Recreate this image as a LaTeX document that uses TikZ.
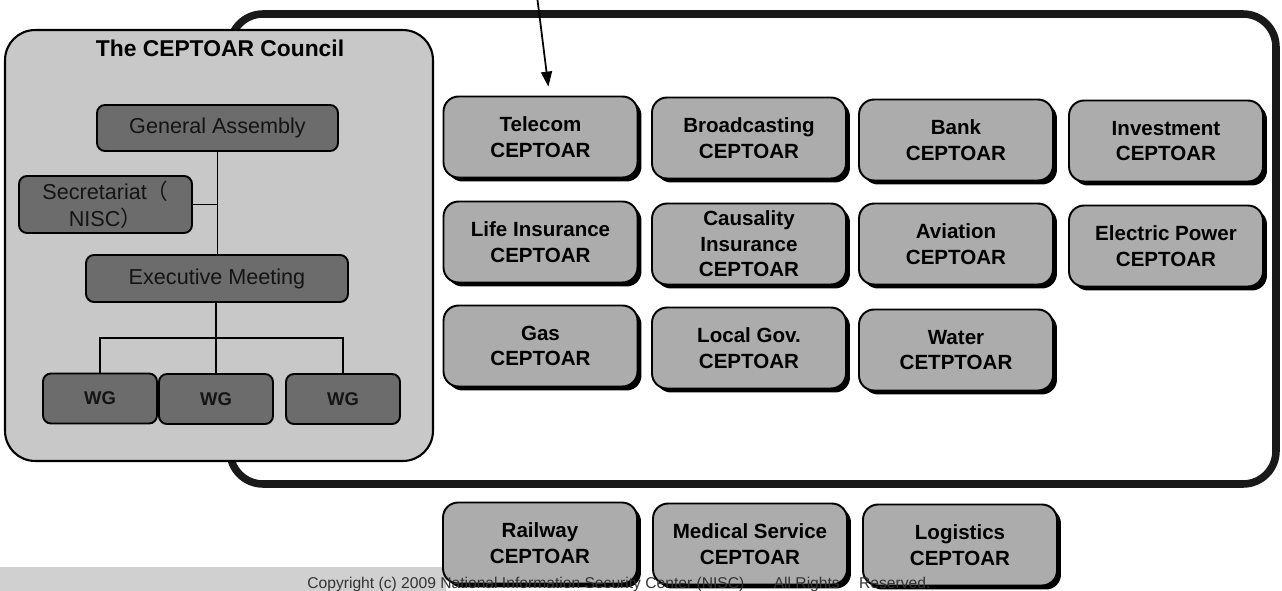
\documentclass[tikz,border=0pt]{standalone}
\usepackage{fontspec}
\setmainfont{Liberation Sans}
\newfontfamily\cjkfont{Noto Sans CJK JP}
\usetikzlibrary{shadows,arrows.meta,calc}
\definecolor{councilbg}{RGB}{200,200,200}
\definecolor{darkbox}{RGB}{108,108,108}
\definecolor{darktext}{RGB}{20,20,20}
\definecolor{cepfill}{RGB}{172,172,172}
\definecolor{stripgray}{RGB}{208,208,208}
\definecolor{framecol}{RGB}{25,25,25}
\tikzset{
  council/.style={draw=black, line width=1.2pt, fill=councilbg, rounded corners=0.6cm,
    minimum width=8.56cm, minimum height=8.62cm, inner sep=0pt},
  titletext/.style={font=\bfseries\fontsize{13}{15}\selectfont},
  orgbox/.style={draw=black, line width=1.1pt, fill=darkbox, rounded corners=0.16cm,
    text=darktext, font=\fontsize{12.3}{15.2}\selectfont, align=center, inner sep=0pt},
  wgbox/.style={orgbox, font=\bfseries\fontsize{10.5}{12}\selectfont,
    minimum width=2.28cm, minimum height=1.0cm},
  cepbox/.style={draw=black, line width=1.1pt, fill=cepfill, rounded corners=0.3cm,
    minimum width=3.88cm, minimum height=1.62cm, inner sep=0pt, align=center,
    font=\bfseries\fontsize{11.7}{14.6}\selectfont,
    drop shadow={shadow xshift=0.08cm, shadow yshift=-0.08cm, opacity=1, fill=black}},
  bigframe/.style={draw=framecol, line width=4.3pt, rounded corners=0.66cm},
  link/.style={draw=black, line width=1.1pt},
  arrowline/.style={draw=black, line width=1pt, -{Triangle[length=0.3cm,width=0.22cm]}},
  copytext/.style={text=black!80, font=\fontsize{8.9}{10}\selectfont, inner sep=0pt, anchor=base west}
}
\begin{document}
\begin{tikzpicture}[x=0.02cm,y=-0.02cm]
\useasboundingbox (0,0) rectangle (1282,591);
\fill[white] (0,0) rectangle (1282,591);

% bottom grey strip
\fill[stripgray] (0,567) rectangle (446,591);

% big frame
\draw[bigframe] (230,14) rectangle (1276,484);

% council
\node[council] (council) at (219,245.5) {};
\node[titletext] (title) at (220,48) {The CEPTOAR Council};

\node[orgbox, minimum width=4.82cm, minimum height=0.92cm] (ga) at (217.5,128) {General Assembly};
\node[orgbox, minimum width=3.46cm, minimum height=1.14cm] (sec) at (105.5,204.5) {Secretariat{\cjkfont （}\\NISC{\cjkfont ）}};
\node[orgbox, minimum width=5.24cm, minimum height=0.94cm] (em) at (217,278.5) {Executive Meeting};
\node[wgbox] (wg1) at (100,398.5) {WG};
\node[wgbox] (wg2) at (216,399) {WG};
\node[wgbox] (wg3) at (343,399) {WG};

\draw[link] (ga.south) -- (ga.south |- em.north);
\draw[link] (sec.east) -- (sec.east -| ga.south);
\coordinate (junc) at (216,338);
\draw[link] (em.south -| wg2.north) -- (wg2.north);
\draw[link] (wg1.north) |- (junc) -| (wg3.north);

% CEPTOAR boxes
\node[cepbox] (telecom) at (540.5,137) {Telecom\\CEPTOAR};
\node[cepbox] (broad) at (749,138) {Broadcasting\\CEPTOAR};
\node[cepbox] (bank) at (956,140) {Bank\\CEPTOAR};
\node[cepbox] (invest) at (1166,141) {Investment\\CEPTOAR};

\node[cepbox] (life) at (540.5,242) {Life Insurance\\CEPTOAR};
\node[cepbox] (causal) at (749,244) {Causality\\Insurance\\CEPTOAR};
\node[cepbox] (aviation) at (956,244) {Aviation\\CEPTOAR};
\node[cepbox] (electric) at (1166,246) {Electric Power\\CEPTOAR};

\node[cepbox] (gas) at (540.5,346) {Gas\\CEPTOAR};
\node[cepbox] (localgov) at (749,348) {Local Gov.\\CEPTOAR};
\node[cepbox] (water) at (956,350) {Water\\CETPTOAR};

\node[cepbox] (railway) at (540,543) {Railway\\CEPTOAR};
\node[cepbox] (medical) at (750,544) {Medical Service\\CEPTOAR};
\node[cepbox] (logistics) at (960,545) {Logistics\\CEPTOAR};

% copyright line (printed over the bottom boxes)
\node[copytext] (copy) at (307,588.5) {Copyright (c) 2009 National Information Security Center (NISC)\hspace{0.5cm} All Rights\hspace{0.3cm} Reserved.};

% arrow
\coordinate (arrtop) at (537,-4);
\draw[arrowline, shorten >=0.18cm] (arrtop) -- ($(telecom.north)+(9,0)$);
\end{tikzpicture}
\end{document}
